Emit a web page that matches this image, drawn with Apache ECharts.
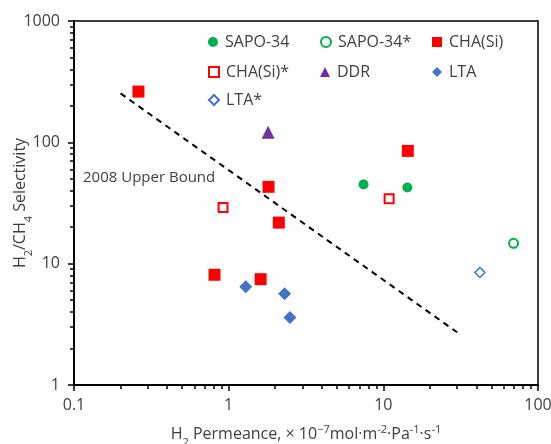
<!DOCTYPE html>
<html>
<head>
<meta charset="utf-8">
<script src="https://cdn.jsdelivr.net/npm/echarts@6/dist/echarts.min.js"></script>
<style>
  html, body { margin: 0; padding: 0; background: #fff; }
  #main { width: 551px; height: 444px; }
</style>
</head>
<body>
<div id="main"></div>
<script>
  // data: [H2 permeance, H2/CH4 selectivity]
  const sapo34 = [[7.45, 45], [14.3, 42.5]];
  const sapo34Star = [[69.5, 14.7]];
  const chaSi = [[0.261, 262], [1.81, 43], [14.4, 85], [2.11, 21.8], [0.81, 8.1], [1.61, 7.45]];
  const chaSiStar = [[0.92, 29.1], [10.9, 34.2]];
  const ddr = [[1.8, 121]];
  const lta = [[1.29, 6.45], [2.3, 5.65], [2.49, 3.6]];
  const ltaStar = [[42.1, 8.45]];
  const upperBound = [[0.2, 253], [30, 2.72]];

  const xMajorTicks = [0.1, 1, 10, 100];
  const yMajorTicks = [1, 10, 100, 1000];
  const xMinorTicks = [0.2, 0.3, 0.4, 0.5, 0.6, 0.7, 0.8, 0.9, 2, 3, 4, 5, 6, 7, 8, 9, 20, 30, 40, 50, 60, 70, 80, 90];
  const yMinorTicks = [2, 3, 4, 5, 6, 7, 8, 9, 20, 30, 40, 50, 60, 70, 80, 90, 200, 300, 400, 500, 600, 700, 800, 900];

  const FONT = 'Open Sans';
  const TXT = '#404040';

  const seriesDefs = [
    { name: 'SAPO-34', data: sapo34, symbol: 'circle', size: 10, style: { color: '#00b050' } },
    { name: 'SAPO-34*', data: sapo34Star, symbol: 'circle', size: 9, style: { color: '#fff', borderColor: '#00b050', borderWidth: 2 } },
    { name: 'CHA(Si)', data: chaSi, symbol: 'rect', size: 12, style: { color: '#ff0000' } },
    { name: 'CHA(Si)*', data: chaSiStar, symbol: 'rect', size: 9, style: { color: '#fff', borderColor: '#ff0000', borderWidth: 2 } },
    { name: 'DDR', data: ddr, symbol: 'triangle', size: 13, style: { color: '#7030a0' } },
    { name: 'LTA', data: lta, symbol: 'diamond', size: 13, style: { color: '#4472c4' } },
    { name: 'LTA*', data: ltaStar, symbol: 'diamond', size: 10, style: { color: '#fff', borderColor: '#4472c4', borderWidth: 1.5 } }
  ];

  // legend slot positions (3 columns)
  const legendCols = [208, 320, 432];
  const legendRows = [33, 63, 91];

  const chart = echarts.init(document.getElementById('main'), null, { renderer: 'canvas' });

  const legends = seriesDefs.map((s, i) => ({
    data: [s.name],
    left: legendCols[i % 3],
    top: legendRows[Math.floor(i / 3)],
    padding: 0,
    itemWidth: 10,
    itemHeight: 10,
    itemGap: 0,
    selectedMode: false,
    textStyle: { fontFamily: FONT, fontSize: 16, color: TXT, padding: [0, 0, 0, 2], lineHeight: 18 }
  }));

  const series = seriesDefs.map(s => ({
    name: s.name,
    type: 'scatter',
    data: s.data,
    symbol: s.symbol,
    symbolSize: s.size,
    itemStyle: Object.assign({ opacity: 1 }, s.style),
    z: 3
  }));

  series.push({
    name: 'upper',
    type: 'line',
    data: upperBound,
    symbol: 'none',
    silent: true,
    lineStyle: { color: '#000', width: 2, type: [6, 5] },
    z: 2
  });

  const subStyles = {
    a: { fontFamily: FONT, fontSize: 16, color: TXT, lineHeight: 24 },
    sub: { fontFamily: FONT, fontSize: 11, color: TXT, verticalAlign: 'bottom', lineHeight: 24, padding: [0, 0, -2, 0] },
    sup: { fontFamily: FONT, fontSize: 11, color: TXT, verticalAlign: 'top', lineHeight: 24, padding: [2, 0, 0, 0] }
  };

  function mainAxis(min, max, ticks) {
    return {
      type: 'log',
      logBase: 10,
      min: min,
      max: max,
      splitLine: { show: false },
      nameLocation: 'middle',
      nameMoveOverlap: false,
      nameTextStyle: { rich: subStyles },
      axisLine: { show: true, onZero: false, lineStyle: { color: '#000', width: 2 } },
      axisTick: { show: true, inside: false, length: 6, customValues: ticks, lineStyle: { color: '#000', width: 1.5 } },
      axisLabel: { show: true, fontFamily: FONT, fontSize: 16, color: TXT, customValues: ticks, formatter: v => String(v) }
    };
  }

  function minorAxis(min, max, ticks) {
    return {
      type: 'log',
      logBase: 10,
      min: min,
      max: max,
      splitLine: { show: false },
      axisLine: { show: false, onZero: false },
      axisLabel: { show: false },
      axisTick: { show: true, inside: false, length: 4, customValues: ticks, lineStyle: { color: '#000', width: 1.5 } }
    };
  }

  const xMain = mainAxis(0.1, 100, xMajorTicks);
  xMain.name = '{a|H}{sub|2}{a| Permeance, × 10}{sup|−7}{a|mol·m}{sup|-2}{a|·Pa}{sup|-1}{a|·s}{sup|-1}';
  xMain.nameGap = 37;
  xMain.axisLabel.margin = 12;

  const yMain = mainAxis(1, 1000, yMajorTicks);
  yMain.name = '{a|H}{sub|2}{a|/CH}{sub|4}{a| Selectivity}';
  yMain.nameGap = 42;
  yMain.nameRotate = 90;
  yMain.axisLabel.margin = 14;

  const xMinor = minorAxis(0.1, 100, xMinorTicks);
  xMinor.position = 'bottom';
  const yMinor = minorAxis(1, 1000, yMinorTicks);
  yMinor.position = 'left';

  const option = {
    animation: false,
    backgroundColor: '#fff',
    grid: {
      left: 74, right: 13, top: 21, bottom: 59,
      containLabel: false,
      outerBoundsMode: 'none',
      show: true, borderColor: '#000', borderWidth: 1.5, backgroundColor: 'transparent'
    },
    legend: legends,
    xAxis: [xMain, xMinor],
    yAxis: [yMain, yMinor],
    graphic: [{
      type: 'text',
      left: 83,
      top: 170,
      style: { text: '2008 Upper Bound', fontFamily: FONT, fontSize: 15, fill: TXT }
    }],
    series: series
  };

  chart.setOption(option);

  window.addEventListener('resize', () => {
    chart.resize();
  });
</script>
</body>
</html>
